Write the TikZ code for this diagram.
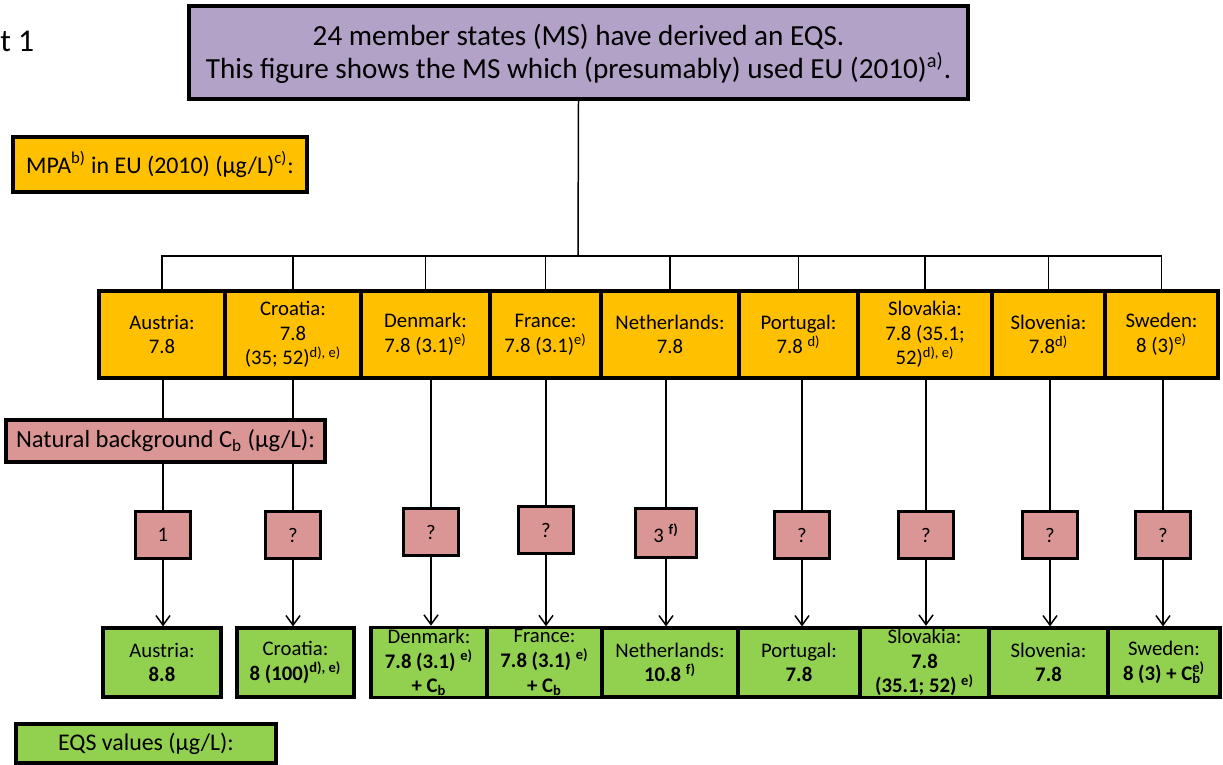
\documentclass[tikz,border=0pt]{standalone}
\usepackage{fontspec}
\setmainfont{Carlito}
\usetikzlibrary{arrows.meta}

\definecolor{headpurple}{HTML}{B3A2C7}
\definecolor{mpaorange}{HTML}{FFC000}
\definecolor{cbpink}{HTML}{DA9694}
\definecolor{eqsgreen}{HTML}{92D050}

\tikzset{
  box/.style={draw=black, line width=1.8pt, align=center, inner sep=1pt,
    font=\fontsize{11.8}{14}\selectfont},
  labelbox/.style={box, font=\fontsize{13.6}{16}\selectfont},
  mpabox/.style={box, fill=mpaorange},
  cbbox/.style={box, fill=cbpink},
  eqsbox/.style={box, fill=eqsgreen},
  link/.style={line width=0.85pt},
  arr/.style={link, -{Straight Barb[length=5.5pt,width=8pt,line width=0.85pt]}},
}
\newcommand{\fn}[1]{\textsuperscript{#1}}
\newcommand{\Cb}{C\textsubscript{b}}

\begin{document}
\begin{tikzpicture}[x=0.02cm, y=-0.02cm]
	\useasboundingbox (0,0) rectangle (1223,764);

	%%%%% TOP %%%%%
	\node[anchor=west, inner sep=0pt, font=\fontsize{18}{21}\selectfont] (part) at (0,41) {t 1};
	\node[box, fill=headpurple, minimum width=15.58cm, minimum height=1.86cm,
		font=\fontsize{16.6}{19}\selectfont] (head) at (578.5,52.5)
		{\rule{0pt}{14pt}24 member states (MS) have derived an EQS.\\This figure shows the MS which (presumably) used EU (2010)\fn{a)}.};
	\node[labelbox, fill=mpaorange, minimum width=5.88cm, minimum height=1.1cm] (mpa) at (160,164.5)
		{MPA\fn{b)} in EU (2010) (µg/L)\fn{c)}:};

	%%%%% MPA ROW %%%%%
	\node[mpabox, minimum width=2.52cm, minimum height=1.74cm] (oA) at (162,334.5) {Austria:\\7.8};
	\node[mpabox, minimum width=2.72cm, minimum height=1.74cm] (oC) at (293,334.5) {Croatia:\\7.8\\(35; 52)\fn{d), e)}};
	\node[mpabox, minimum width=2.58cm, minimum height=1.74cm] (oD) at (425.5,334.5) {Denmark:\\7.8 (3.1)\fn{e)}};
	\node[mpabox, minimum width=2.22cm, minimum height=1.74cm] (oF) at (545.5,334.5) {France:\\7.8 (3.1)\fn{e)}};
	\node[mpabox, minimum width=2.76cm, minimum height=1.74cm] (oN) at (670,334.5) {Netherlands:\\7.8};
	\node[mpabox, minimum width=2.38cm, minimum height=1.74cm] (oP) at (798.5,334.5) {Portugal:\\7.8 \fn{d)}};
	\node[mpabox, minimum width=2.68cm, minimum height=1.74cm] (oSk) at (925,334.5) {Slovakia:\\7.8 (35.1;\\52)\fn{d), e)}};
	\node[mpabox, minimum width=2.26cm, minimum height=1.74cm] (oSl) at (1048.5,334.5) {Slovenia:\\7.8\fn{d)}};
	\node[mpabox, minimum width=2.26cm, minimum height=1.74cm] (oSw) at (1161.5,334.5) {Sweden:\\8 (3)\fn{e)}};

	%%%%% BACKGROUND ROW %%%%%
	\node[cbbox, minimum width=1.1cm, minimum height=0.94cm] (pA) at (163,535) {1};
	\node[cbbox, minimum width=1.1cm, minimum height=0.94cm] (pC) at (293,535) {?};
	\node[cbbox, minimum width=1.1cm, minimum height=0.94cm] (pD) at (431,532) {?};
	\node[cbbox, minimum width=1.1cm, minimum height=0.94cm] (pF) at (546,530) {?};
	\node[cbbox, minimum width=1.22cm, minimum height=0.98cm] (pN) at (666,533) {3 \fn{\textbf{f)}}};
	\node[cbbox, minimum width=1.1cm, minimum height=0.94cm] (pP) at (802,535) {?};
	\node[cbbox, minimum width=1.1cm, minimum height=0.94cm] (pSk) at (926,535) {?};
	\node[cbbox, minimum width=1.1cm, minimum height=0.94cm] (pSl) at (1050,535) {?};
	\node[cbbox, minimum width=1.1cm, minimum height=0.94cm] (pSw) at (1163,535) {?};

	%%%%% EQS ROW %%%%%
	\node[eqsbox, minimum width=2.36cm, minimum height=1.38cm] (gA) at (162,662.5) {Austria:\\\textbf{8.8}};
	\node[eqsbox, minimum width=2.34cm, minimum height=1.38cm] (gC) at (295.5,662.5) {Croatia:\\\textbf{8 (100)\fn{d), e)}}};
	\node[eqsbox, minimum width=2.32cm, minimum height=1.38cm] (gD) at (429,662.5) {Denmark:\\\textbf{7.8 (3.1) \fn{e)}}\\\textbf{+ \Cb}};
	\node[eqsbox, minimum width=2.30cm, minimum height=1.38cm] (gF) at (544.5,662.5) {France:\\\textbf{7.8 (3.1) \fn{e)}}\\\textbf{+ \Cb}};
	\node[eqsbox, minimum width=2.72cm, minimum height=1.38cm] (gN) at (670,662.5) {Netherlands:\\\textbf{10.8 \fn{f)}}};
	\node[eqsbox, minimum width=2.44cm, minimum height=1.38cm] (gP) at (799,662.5) {Portugal:\\\textbf{7.8}};
	\node[eqsbox, minimum width=2.58cm, minimum height=1.38cm] (gSk) at (924.5,662.5) {Slovakia:\\\textbf{7.8}\\\textbf{(35.1; 52) \fn{e)}}};
	\node[eqsbox, minimum width=2.38cm, minimum height=1.38cm] (gSl) at (1048.5,662.5) {Slovenia:\\\textbf{7.8}};
	\node[eqsbox, minimum width=2.24cm, minimum height=1.38cm] (gSw) at (1164,662.5) {Sweden:\\\textbf{8 (3) + C\rlap{\textsubscript{b}}\fn{e)}}};
	\node[labelbox, fill=eqsgreen, minimum width=5.2cm, minimum height=0.78cm] (eqs) at (146,743.5) {EQS values (µg/L):};

	%%%%% TREE %%%%%
	\coordinate (bus) at (578,256);
	\draw[link] (head.south) -- (bus);
	\draw[link] (bus) -| (oA.north);  \draw[link] (bus) -| (oC.north);
	\draw[link] (bus) -| (oD.north);  \draw[link] (bus) -| (oF.north);
	\draw[link] (bus) -| (oN.north);  \draw[link] (bus) -| (oP.north);
	\draw[link] (bus) -| (oSk.north); \draw[link] (bus) -| (oSl.north);
	\draw[link] (bus) -| (oSw.north);

	\draw[link] (pA.north |- oA.south) -- (pA.north);
	\draw[link] (pC.north |- oC.south) -- (pC.north);
	\draw[link] (pD.north |- oD.south) -- (pD.north);
	\draw[link] (pF.north |- oF.south) -- (pF.north);
	\draw[link] (pN.north |- oN.south) -- (pN.north);
	\draw[link] (pP.north |- oP.south) -- (pP.north);
	\draw[link] (pSk.north |- oSk.south) -- (pSk.north);
	\draw[link] (pSl.north |- oSl.south) -- (pSl.north);
	\draw[link] (pSw.north |- oSw.south) -- (pSw.north);

	\draw[arr] (pA.south) -- (pA.south |- gA.north);
	\draw[arr] (pC.south) -- (pC.south |- gC.north);
	\draw[arr] (pD.south) -- (pD.south |- gD.north);
	\draw[arr] (pF.south) -- (pF.south |- gF.north);
	\draw[arr] (pN.south) -- (pN.south |- gN.north);
	\draw[arr] (pP.south) -- (pP.south |- gP.north);
	\draw[arr] (pSk.south) -- (pSk.south |- gSk.north);
	\draw[arr] (pSl.south) -- (pSl.south |- gSl.north);
	\draw[arr] (pSw.south) -- (pSw.south |- gSw.north);

	% label box sits over the first two drops
	\node[labelbox, fill=cbpink, minimum width=6.38cm, minimum height=0.84cm,
		font=\fontsize{14}{16}\selectfont] (cb) at (165.5,441)
		{Natural background \Cb{} (µg/L):};
\end{tikzpicture}
\end{document}
